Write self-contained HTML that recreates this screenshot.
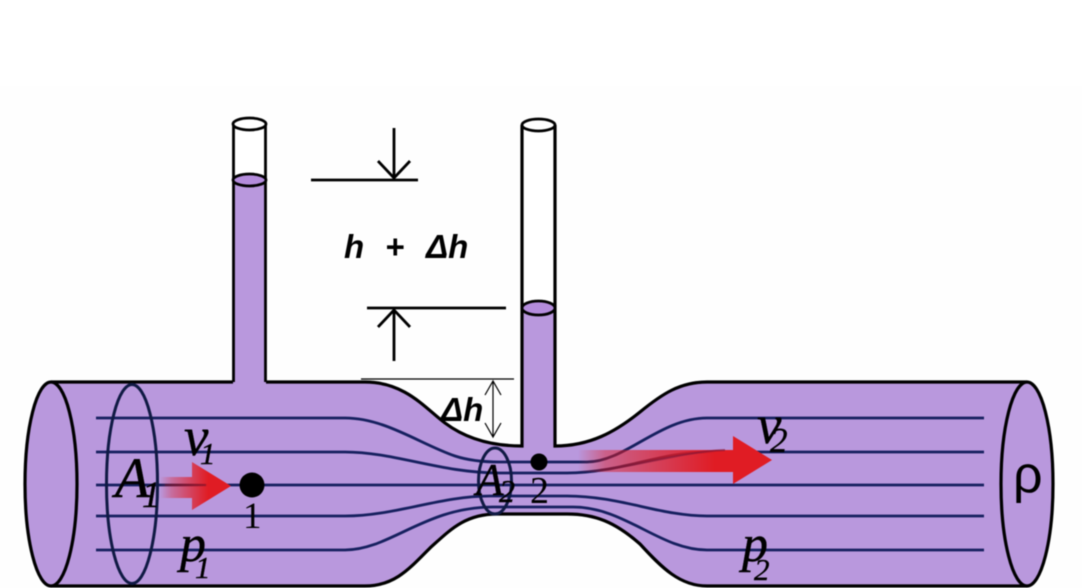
<!DOCTYPE html>
<html><head><meta charset="utf-8"><style>
html,body{margin:0;padding:0;background:#fff;width:1082px;height:588px;overflow:hidden}
svg{display:block;filter:blur(0.4px)}
.s{font-family:"Liberation Serif",serif;font-style:italic;fill:#000;stroke:#000;stroke-width:.4}
.b{font-family:"Liberation Sans",sans-serif;font-style:italic;font-weight:bold;fill:#000}
</style></head><body>
<svg width="1082" height="588" viewBox="0 0 1082 588" xmlns="http://www.w3.org/2000/svg">
<defs>
<linearGradient id="r1" x1="160" x2="208" y1="0" y2="0" gradientUnits="userSpaceOnUse"><stop offset="0" stop-color="#e01c24" stop-opacity="0"/><stop offset=".25" stop-color="#e01c24" stop-opacity=".35"/><stop offset="1" stop-color="#e01c24"/></linearGradient>
<linearGradient id="r2" x1="578" x2="715" y1="0" y2="0" gradientUnits="userSpaceOnUse"><stop offset="0" stop-color="#e01c24" stop-opacity="0"/><stop offset=".2" stop-color="#e01c24" stop-opacity=".45"/><stop offset="1" stop-color="#e01c24"/></linearGradient>
</defs>
<rect width="1082" height="588" fill="#fff"/>
<rect y="86" width="1082" height="502" fill="#fefefe"/>
<!-- tubes -->
<rect x="233" y="124" width="33" height="260" fill="#fff"/>
<rect x="233" y="180" width="33" height="205" fill="#b998dd"/>
<rect x="522" y="125" width="33" height="325" fill="#fff"/>
<rect x="522" y="308" width="33" height="142" fill="#b998dd"/>
<!-- body -->
<path d="M51 382H233V180H266V382H365C405 382 425 408 445 423C465 438 490 446 522 446V308H555V446C590 446 615 432 640 412C662 394 680 382 707 382H1027C1041 382 1053 428 1053 484C1053 540 1041 586 1027 586H707C680 586 662 568 640 544C615 522 595 514 567 514H497C465 514 450 530 430 548C410 568 395 586 365 586H51C37 586 25 540 25 484C25 428 37 382 51 382Z" fill="#b998dd"/>
<path d="M51 382H233M266 382H365C405 382 425 408 445 423C465 438 490 446 522 446V125M555 125V446C590 446 615 432 640 412C662 394 680 382 707 382H1027M1027 586H707C680 586 662 568 640 544C615 522 595 514 567 514H497C465 514 450 530 430 548C410 568 395 586 365 586H51" fill="none" stroke="#000" stroke-width="3.200"/>
<path d="M233.500 382V124M265.500 382V124" fill="none" stroke="#000" stroke-width="2.800"/>
<!-- streamlines -->
<g fill="none" stroke="#16205f" stroke-width="2.800">
<path d="M96 418H345C385 418 420 444 455 456C470 461 485 462 500 462H587C625 462 660 418 707 418H984"/>
<path d="M96 452H345C395 452 440 473 500 473H567C620 473 660 452 707 452H984"/>
<path d="M96 485H984"/>
<path d="M96 516H345C395 516 440 496 490 496H567C620 496 660 516 707 516H984"/>
<path d="M96 550H345C390 550 425 507 493 507H573C625 507 660 550 707 550H984"/>
</g>
<!-- ends -->
<ellipse cx="51" cy="484" rx="26" ry="102" fill="#b998dd" stroke="#000" stroke-width="3.200"/>
<ellipse cx="1027" cy="484" rx="26" ry="102" fill="#b998dd" stroke="#000" stroke-width="3.200"/>
<ellipse cx="132" cy="484" rx="25.500" ry="99.500" fill="none" stroke="#101a44" stroke-width="3"/>
<ellipse cx="495" cy="481" rx="16.500" ry="33" fill="none" stroke="#101a44" stroke-width="3"/>
<!-- tube rims -->
<ellipse cx="249.500" cy="124" rx="16.500" ry="6" fill="#fff" stroke="#000" stroke-width="2.800"/>
<ellipse cx="249.500" cy="180" rx="16.500" ry="6" fill="#b48cdc" stroke="#000" stroke-width="2.800"/>
<ellipse cx="538.500" cy="125" rx="16.500" ry="6" fill="#fff" stroke="#000" stroke-width="2.800"/>
<ellipse cx="538.500" cy="308" rx="16.500" ry="7" fill="#b48cdc" stroke="#000" stroke-width="2.800"/>
<!-- red arrows -->
<path d="M160 477H192V462L231 486L192 510V498H160Z" fill="url(#r1)"/>
<path d="M578 450H733V436L772 460L733 484V472H578Z" fill="url(#r2)"/>
<path d="M165 485H206" fill="none" stroke="#6a1430" stroke-width="2" opacity=".55"/>
<path d="M600 470C640 466 680 452 725 450" fill="none" stroke="#7a1638" stroke-width="2" opacity=".6"/>
<!-- dots -->
<circle cx="252" cy="485" r="12.500" fill="#000"/>
<circle cx="539" cy="462" r="8.500" fill="#000"/>
<!-- dimension lines -->
<g fill="none" stroke="#000">
<path d="M311 180H418M367 308H506" stroke-width="2.800"/>
<path d="M394 128V178M378 161L394 178L410 161M394 361V310M378 327L394 310L410 327" stroke-width="2.800"/>
<path d="M361 379H514" stroke-width="1.200"/>
<path d="M493 381V437M485 395L493 381L501 395M485 423L493 437L501 423" stroke-width="1.200"/>
</g>
<!-- text -->
<text class="b" x="344" y="258" font-size="33">h</text>
<text class="b" x="385" y="258" font-size="33">+</text>
<text class="b" x="426" y="258" font-size="33">Δh</text>
<text class="b" x="441" y="421" font-size="33">Δh</text>
<g class="s">
<text x="115" y="497" font-size="57">A</text>
<text x="142" y="507" font-size="37">1</text>
<text x="184" y="455" font-size="55">v</text>
<text x="200" y="464" font-size="31">1</text>
<text x="180" y="561" font-size="52">p</text>
<text x="195" y="578" font-size="31">1</text>
<text x="476" y="495" font-size="45">A</text>
<text x="499" y="502" font-size="32">2</text>
<text x="757" y="443" font-size="55">v</text>
<text x="770" y="452" font-size="35">2</text>
<text x="742" y="561" font-size="52">p</text>
<text x="754" y="580" font-size="31">2</text>
</g>
<text x="243" y="528" font-family="'Liberation Serif',serif" font-size="37" fill="#000">1</text>
<text x="530" y="503" font-family="'Liberation Serif',serif" font-size="38" fill="#000">2</text>
<text x="1013" y="492" font-family="'Liberation Sans',sans-serif" font-size="52" fill="#000">ρ</text>
</svg>
</body></html>
